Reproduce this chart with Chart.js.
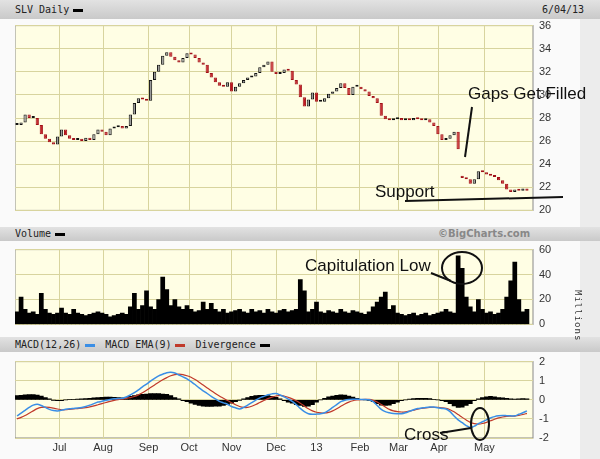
<!DOCTYPE html>
<html><head><meta charset="utf-8">
<script src="https://cdn.jsdelivr.net/npm/chart.js@4"></script>
<style>
body{margin:0;width:600px;height:459px;background:#ececec;position:relative;overflow:hidden;font-family:"DejaVu Sans Mono",monospace}
.bar{position:absolute;left:0;width:600px;background:linear-gradient(#e2e2e2,#c9c9c9);font-size:10px;color:#222}
.panel{position:absolute;left:0;width:580px;background:#fafafa}
canvas{position:absolute}
.dash{display:inline-block;width:10px;height:3px;vertical-align:middle;margin:0 4px}
.ann{position:absolute;font-family:"Liberation Sans",Arial,sans-serif;color:#111;font-size:17px;white-space:nowrap}
</style></head><body>
<div class="bar" style="top:0;height:19px"><span style="position:absolute;left:15px;top:4px">SLV Daily<span class="dash" style="background:#000"></span></span><span style="position:absolute;left:542px;top:4px">6/04/13</span></div>
<div class="panel" style="top:19px;height:208px"></div>
<div class="bar" style="top:227px;height:14px"><span style="position:absolute;left:15px;top:1px">Volume<span class="dash" style="background:#000"></span></span><span style="position:absolute;left:438px;top:1px;color:#888;font-family:'DejaVu Sans';font-weight:bold;font-size:10px">©BigCharts.com</span></div>
<div class="panel" style="top:241px;height:96px"></div>
<div class="bar" style="top:337px;height:15px"><span style="position:absolute;left:15px;top:2px">MACD(12,26)<span class="dash" style="background:#3a8ee6"></span> MACD EMA(9)<span class="dash" style="background:#c0392b"></span> Divergence<span class="dash" style="background:#000"></span></span></div>
<div class="panel" style="top:352px;height:107px"></div>
<canvas id="price" style="left:15px;top:13px"></canvas>
<canvas id="vol" style="left:15px;top:237px"></canvas>
<canvas id="macd" style="left:15px;top:349px"></canvas>
<div style="position:absolute;left:583px;top:290px;transform:rotate(90deg);transform-origin:left top;font-size:9px;color:#333;letter-spacing:1px">Millions</div>
<svg style="position:absolute;left:0;top:0" width="600" height="459">
<g stroke="#111" stroke-width="2" fill="none">
<line x1="472" y1="107" x2="465" y2="157"/>
<line x1="405" y1="201" x2="563" y2="197"/>
<ellipse cx="462" cy="268" rx="20" ry="16"/>
<line x1="431" y1="273" x2="451" y2="281"/>
<ellipse cx="480" cy="424" rx="9" ry="16"/>
<line x1="440" y1="433" x2="471" y2="428"/>
</g></svg>
<div class="ann" style="left:468px;top:84px">Gaps Get Filled</div>
<div class="ann" style="left:375px;top:182px">Support</div>
<div class="ann" style="left:305px;top:256px">Capitulation Low</div>
<div class="ann" style="left:404px;top:425px">Cross</div>
<script>
// each entry = 2 trading sessions, starting early June 2012
const closes = [27.4,27.6,28.3,28.0,28.0,27.4,26.6,26.2,25.9,25.7,
  26.4,27.0,26.5,26.2,26.1,26.2,26.0,26.3,26.1,26.6,
  27.0,26.8,26.5,27.1,27.2,27.3,27.1,27.3,28.3,29.3,
  29.7,29.6,29.5,31.3,32.0,32.6,33.4,33.7,33.3,33.0,
  32.8,33.2,33.6,33.5,33.2,32.8,32.6,31.9,31.5,31.1,
  30.8,30.7,31.1,30.3,30.7,31.0,31.3,31.5,31.6,31.9,
  32.4,32.6,32.9,32.0,31.8,31.9,32.2,32.1,31.3,30.9,
  29.8,29.0,29.6,30.2,29.4,29.4,29.7,30.1,30.3,30.6,
  31.0,30.6,30.0,30.7,30.7,30.5,30.3,29.9,29.7,29.3,
  28.2,27.9,27.8,27.9,28.0,27.8,27.9,27.8,28.0,27.9,
  27.8,27.9,27.6,27.3,26.6,26.1,26.2,26.5,26.8,25.3,
  22.8,22.7,22.3,22.7,23.4,23.3,23.1,23.0,22.9,22.6,
  22.3,21.8,21.6,21.8,21.7,21.9,21.7];
const gapOpens = {110: 23.0};
const volume = [10,22,12,9,10,8,25,12,9,8,
  9,13,9,8,12,9,8,7,8,9,
  10,9,8,6,7,8,9,8,14,25,
  12,15,27,14,12,20,38,28,15,20,
  14,12,15,12,10,11,18,12,17,12,
  10,12,9,10,11,12,10,9,12,10,
  11,9,12,10,9,11,12,10,11,12,
  36,27,10,12,18,10,9,11,10,9,
  12,10,9,11,10,9,8,10,14,18,
  22,26,12,15,9,8,7,8,9,7,
  8,9,7,8,9,10,12,10,9,55,
  45,22,14,10,20,12,9,10,8,9,
  12,22,35,50,20,10,12];
const macd = [-0.84,-0.7,-0.55,-0.4,-0.28,-0.23,-0.3,-0.4,-0.5,-0.56,
  -0.58,-0.55,-0.5,-0.47,-0.45,-0.43,-0.4,-0.35,-0.28,-0.2,
  -0.12,-0.08,-0.02,0.02,0.05,0.07,0.08,0.15,0.25,0.38,
  0.52,0.68,0.82,0.98,1.12,1.25,1.34,1.42,1.44,1.4,
  1.3,1.2,1.1,0.95,0.8,0.62,0.47,0.33,0.18,0.05,
  -0.08,-0.16,-0.23,-0.35,-0.42,-0.48,-0.4,-0.28,-0.15,-0.02,
  0.1,0.18,0.26,0.31,0.33,0.25,0.15,0.04,-0.08,-0.25,
  -0.45,-0.62,-0.73,-0.76,-0.75,-0.73,-0.68,-0.55,-0.4,-0.25,
  -0.1,-0.02,0.02,0.03,0.03,0.02,0.02,0.0,-0.1,-0.3,
  -0.5,-0.62,-0.68,-0.72,-0.73,-0.73,-0.68,-0.6,-0.52,-0.46,
  -0.43,-0.4,-0.38,-0.38,-0.42,-0.45,-0.48,-0.62,-0.85,-1.05,
  -1.2,-1.35,-1.45,-1.38,-1.25,-1.15,-1.05,-0.95,-0.88,-0.84,
  -0.82,-0.83,-0.84,-0.84,-0.76,-0.68,-0.58];
const macdEma = [-1.0,-0.92,-0.82,-0.7,-0.58,-0.46,-0.4,-0.38,-0.4,-0.44,
  -0.48,-0.52,-0.52,-0.5,-0.48,-0.46,-0.44,-0.41,-0.37,-0.32,
  -0.26,-0.2,-0.14,-0.08,-0.03,0.01,0.04,0.07,0.11,0.17,
  0.26,0.37,0.5,0.64,0.78,0.92,1.05,1.16,1.26,1.32,
  1.34,1.32,1.26,1.18,1.06,0.92,0.77,0.62,0.47,0.33,
  0.2,0.08,-0.04,-0.15,-0.26,-0.35,-0.4,-0.4,-0.34,-0.25,
  -0.14,-0.04,0.06,0.14,0.2,0.23,0.2,0.13,0.05,-0.05,
  -0.18,-0.33,-0.47,-0.58,-0.65,-0.68,-0.69,-0.66,-0.58,-0.47,
  -0.34,-0.22,-0.12,-0.05,-0.01,0.01,0.02,0.02,-0.03,-0.12,
  -0.25,-0.38,-0.5,-0.58,-0.62,-0.64,-0.63,-0.59,-0.54,-0.49,
  -0.45,-0.42,-0.4,-0.39,-0.4,-0.42,-0.45,-0.52,-0.63,-0.77,
  -0.92,-1.06,-1.18,-1.25,-1.27,-1.24,-1.18,-1.1,-1.02,-0.95,
  -0.9,-0.87,-0.86,-0.85,-0.82,-0.77,-0.71];
const divergence = [0.22,0.24,0.26,0.27,0.27,0.25,0.2,0.12,0.05,-0.02,
  -0.05,-0.04,0.0,0.02,0.03,0.04,0.05,0.07,0.08,0.1,
  0.12,0.13,0.14,0.14,0.13,0.12,0.1,0.12,0.18,0.22,
  0.26,0.28,0.3,0.32,0.33,0.32,0.3,0.28,0.22,0.12,
  0.05,-0.05,-0.1,-0.18,-0.24,-0.3,-0.33,-0.35,-0.35,-0.34,
  -0.33,-0.3,-0.25,-0.18,-0.1,-0.02,0.05,0.12,0.18,0.22,
  0.24,0.24,0.22,0.18,0.13,0.05,-0.05,-0.12,-0.18,-0.25,
  -0.3,-0.35,-0.33,-0.25,-0.12,0.0,0.08,0.15,0.2,0.24,
  0.26,0.25,0.2,0.14,0.08,0.03,0.0,-0.03,-0.1,-0.2,
  -0.28,-0.3,-0.28,-0.2,-0.12,-0.05,0.0,0.04,0.06,0.08,
  0.08,0.08,0.06,0.03,0.0,-0.05,-0.1,-0.2,-0.32,-0.4,
  -0.38,-0.3,-0.2,-0.05,0.05,0.12,0.16,0.18,0.16,0.12,
  0.1,0.08,0.05,0.04,0.05,0.06,0.05];
const monthDays = [21,42.5,65,85,106,128,148,169.5,188.5,208.5,231];
const monthLabels = ['Jul','Aug','Sep','Oct','Nov','Dec','13','Feb','Mar','Apr','May'];
const priceTicks = [20,22,24,26,28,30,32,34,36];

const days = closes.map((c, i) => i * 2);
const opens = closes.map((c, i) => gapOpens[i] !== undefined ? gapOpens[i] : (i ? closes[i - 1] : c));
const gridColor = '#d8d49e';
const tickFont = { family: 'Liberation Sans', size: 11 };

const plotBg = {
  id: 'plotBg',
  beforeDraw(chart) {
    const { ctx, chartArea: a } = chart;
    ctx.save();
    ctx.fillStyle = '#fffee4';
    ctx.fillRect(a.left, a.top, a.right - a.left, a.bottom - a.top);
    ctx.strokeStyle = '#888';
    ctx.strokeRect(a.left, a.top, a.right - a.left, a.bottom - a.top);
    ctx.restore();
  }
};

function xScale(showLabels) {
  return {
    type: 'linear', min: -1, max: 255, offset: false,
    afterBuildTicks: s => { s.ticks = monthDays.map(v => ({ value: v })); },
    ticks: { display: showLabels, callback: (v, i) => monthLabels[i], color: '#333', font: tickFont, maxRotation: 0, autoSkip: false },
    grid: { color: gridColor, drawTicks: false, offset: false },
    border: { display: false },
    afterFit: s => { s.height = showLabels ? 21 : 0; }
  };
}

function yScale(min, max, step, ticks) {
  return {
    position: 'right', min, max,
    afterBuildTicks: s => { s.ticks = ticks.map(v => ({ value: v })); },
    ticks: { color: '#333', font: tickFont, padding: 6 },
    grid: { color: gridColor, drawTicks: false },
    border: { display: false },
    afterFit: s => { s.width = 42; }
  };
}

function setup(id, h) {
  const c = document.getElementById(id);
  c.style.width = '560px'; c.style.height = h + 'px';
  return c;
}

const baseOpts = (scales, bottom) => ({
  responsive: false, animation: false,
  layout: { padding: { top: 10, bottom: bottom, left: 0, right: 0 } },
  plugins: { legend: { display: false }, tooltip: { enabled: false } },
  scales
});

const pc = setup('price', 210); pc.width = 560; pc.height = 210;
new Chart(pc, {
  type: 'bar',
  data: {
    datasets: [{
      data: days.map((d, i) => ({ x: d, y: [opens[i], closes[i]] })),
      backgroundColor: closes.map((c, i) => c >= opens[i] ? '#9a9a9a' : '#c0141c'),
      borderColor: closes.map((c, i) => c >= opens[i] ? '#111' : '#a01018'),
      borderWidth: 1, borderSkipped: false,
      barPercentage: 0.8, categoryPercentage: 1, minBarLength: 2
    }]
  },
  options: baseOpts({ x: xScale(false), y: yScale(20, 36, 2, priceTicks) }, 10),
  plugins: [plotBg]
});

const vc = setup('vol', 100); vc.width = 560; vc.height = 100;
new Chart(vc, {
  type: 'bar',
  data: { datasets: [{ data: days.map((d, i) => ({ x: d, y: volume[i] })), backgroundColor: '#000', barPercentage: 1, categoryPercentage: 1 }] },
  options: baseOpts({ x: xScale(false), y: yScale(0, 60, 20, [0, 20, 40, 60]) }, 10),
  plugins: [plotBg]
});

const mc = setup('macd', 110); mc.width = 560; mc.height = 110;
new Chart(mc, {
  type: 'bar',
  data: {
    datasets: [
      { type: 'line', data: days.map((d, i) => ({ x: d, y: macd[i] })), borderColor: '#3a8ee6', borderWidth: 1.5, pointRadius: 0, tension: 0.3 },
      { type: 'line', data: days.map((d, i) => ({ x: d, y: macdEma[i] })), borderColor: '#c0392b', borderWidth: 1.2, pointRadius: 0, tension: 0.3 },
      { data: days.map((d, i) => ({ x: d, y: divergence[i] })), backgroundColor: '#000', barPercentage: 1, categoryPercentage: 1 }
    ]
  },
  options: baseOpts({ x: xScale(true), y: yScale(-2, 2, 1, [-2, -1, 0, 1, 2]) }, 0),
  plugins: [plotBg]
});
</script>
</body></html>
